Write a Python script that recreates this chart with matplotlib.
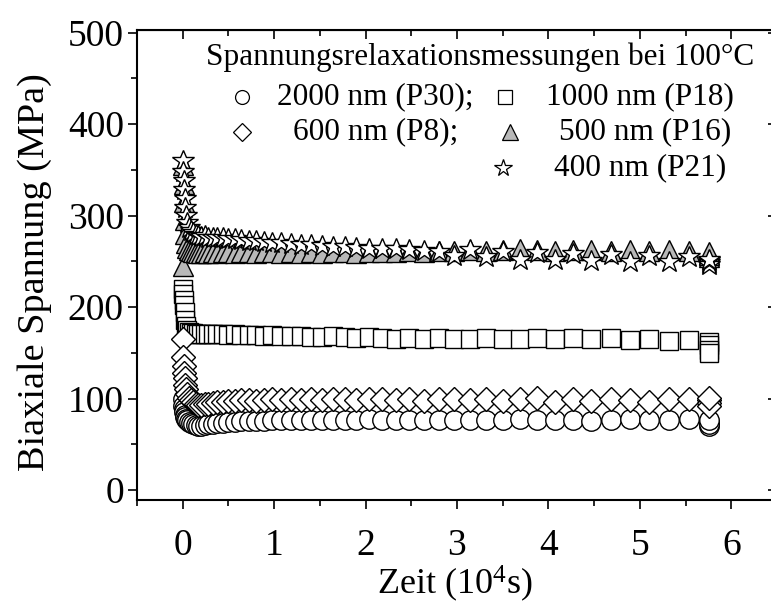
import matplotlib
matplotlib.use('Agg')
import matplotlib.pyplot as plt
from matplotlib.lines import Line2D
from matplotlib.ticker import MultipleLocator

plt.rcParams['font.family'] = ['Liberation Serif', 'DejaVu Serif']
plt.rcParams['mathtext.fontset'] = 'custom'
plt.rcParams['mathtext.rm'] = 'Liberation Serif'
plt.rcParams['mathtext.default'] = 'rm'

# ---- data (time in 10^4 s, stress in MPa) ----
t_base = [0.0, 0.005, 0.01, 0.015, 0.02, 0.03, 0.04, 0.05, 0.07, 0.09, 0.11, 0.14,
          0.17, 0.2, 0.24, 0.28, 0.33, 0.38, 0.44, 0.5, 0.57, 0.64, 0.72, 0.8, 0.89,
          0.98, 1.08, 1.18, 1.29, 1.4, 1.52, 1.64, 1.77, 1.9, 2.04, 2.18, 2.33, 2.48,
          2.64, 2.8, 2.97, 3.14, 3.32, 3.5, 3.69, 3.88, 4.07, 4.27, 4.47, 4.68, 4.89,
          5.1, 5.32, 5.54, 5.76]

s_2000 = [100, 92, 88, 85, 82, 80, 78, 76, 74, 73, 72, 71, 70, 70, 71, 72, 72, 73,
          73, 74, 74, 75, 75, 75, 75, 76, 76, 76, 77, 76, 77, 77, 76, 77, 78, 77, 76,
          77, 76, 76, 76, 77, 76, 77, 78, 77, 76, 77, 75, 77, 78, 76, 76, 78, 74]
s_1000 = [220, 214, 208, 202, 195, 186, 179, 175, 173, 172, 172, 171, 171, 171, 170,
          171, 170, 170, 170, 169, 170, 169, 169, 169, 168, 169, 168, 168, 168, 167,
          167, 168, 167, 166, 167, 166, 165, 166, 165, 166, 165, 165, 166, 165, 165,
          166, 165, 166, 165, 166, 164, 165, 163, 164, 162]
s_600 = [165, 145, 135, 128, 122, 115, 110, 105, 101, 98, 96, 94, 93, 93, 94, 94, 95,
         96, 96, 97, 97, 98, 98, 97, 98, 99, 98, 99, 98, 99, 98, 99, 100, 98, 99, 100,
         98, 99, 97, 99, 100, 98, 99, 97, 100, 101, 96, 99, 97, 100, 98, 96, 99, 100, 98]
s_500 = [245, 355, 335, 315, 295, 280, 270, 265, 262, 261, 260, 260, 259, 259, 260,
         259, 260, 259, 260, 260, 259, 260, 260, 259, 260, 260, 259, 260, 259, 260,
         259, 260, 260, 259, 260, 260, 260, 261, 260, 261, 261, 262, 261, 262, 263,
         262, 261, 262, 262, 261, 262, 261, 262, 261, 258]
s_400 = [360, 348, 338, 328, 318, 308, 300, 292, 287, 283, 281, 279, 278, 277, 278,
         276, 276, 275, 275, 274, 274, 273, 272, 272, 271, 270, 270, 269, 268, 268,
         267, 266, 266, 265, 264, 264, 263, 262, 261, 260, 256, 262, 255, 260, 252,
         259, 251, 258, 250, 257, 249, 256, 249, 255, 248]

t_end = [5.76, 5.76, 5.76]
e_2000 = [70, 72, 76]
e_1000 = [158, 153, 150]
e_600 = [95, 92, 101]
e_500 = [255, 257, 260]
e_400 = [246, 250, 252]

fig = plt.figure(figsize=(7.71, 6.09), dpi=100)
ax = fig.add_axes([137 / 771, 1 - 500 / 609, (777 - 137) / 771, (500 - 30) / 609])

mew = 1.0
series = [
    (s_2000, e_2000, dict(marker='o', ms=14, mfc='white')),
    (s_1000, e_1000, dict(marker='s', ms=12.5, mfc='white')),
    (s_600, e_600, dict(marker='D', ms=12, mfc='white')),
    (s_500, e_500, dict(marker='^', ms=15, mfc='#b8b8b8')),
    (s_400, e_400, dict(marker='*', ms=16.5, mfc='white')),
]
for vals, ends, st in series:
    ax.plot(t_base + t_end, vals + ends, ls='none', mec='black', mew=mew, **st)

ax.set_xlim(-0.5, 6.5)
ax.set_ylim(-11, 503)
ax.xaxis.set_major_locator(MultipleLocator(1))
ax.xaxis.set_minor_locator(MultipleLocator(0.5))
ax.yaxis.set_major_locator(MultipleLocator(100))
ax.yaxis.set_minor_locator(MultipleLocator(50))

for s in ax.spines.values():
    s.set_linewidth(1.5)

ax.tick_params(which='both', direction='out', top=False, right=False, width=1.2)
ax.tick_params(which='major', length=6.5, labelsize=27)
ax.tick_params(which='minor', length=4)
ax.tick_params(axis='x', which='major', pad=14)
ax.tick_params(axis='y', which='major', pad=3)

# mirrored inward ticks on top and right
axt = ax.secondary_xaxis('top')
axt.xaxis.set_major_locator(MultipleLocator(1))
axt.xaxis.set_minor_locator(MultipleLocator(0.5))
axt.tick_params(which='both', direction='in', labeltop=False, width=1.2)
axt.tick_params(which='major', length=6.5)
axt.tick_params(which='minor', length=4)
axr = ax.secondary_yaxis('right')
axr.yaxis.set_major_locator(MultipleLocator(100))
axr.yaxis.set_minor_locator(MultipleLocator(50))
axr.tick_params(which='both', direction='in', labelright=False, width=1.2)
axr.tick_params(which='major', length=6.5)
axr.tick_params(which='minor', length=4)

fig.text(35 / 771, 1 - 272 / 609, 'Biaxiale Spannung (MPa)', rotation=90,
         ha='center', va='center', fontsize=27.5)
fig.text(455 / 771, 1 - 584 / 609, r'Zeit (10$^{4}$s)', ha='center', va='center',
         fontsize=26)

# legend block
def fx(x):
    return x / 771

def fy(y):
    return 1 - y / 609

fig.text(fx(480), fy(57), 'Spannungsrelaxationsmessungen bei 100°C', ha='center',
         va='center', fontsize=22.5)
leg_rows = [
    (242, 97, 'o', 10, 'white', 277, '2000 nm (P30);'),
    (505, 97, 's', 9.5, 'white', 546, '1000 nm (P18)'),
    (242, 132, 'D', 9.5, 'white', 293, '600 nm (P8);'),
    (510, 132, '^', 11, '#b8b8b8', 559, '500 nm (P16)'),
    (503, 168, '*', 13, 'white', 554, '400 nm (P21)'),
]
for mx, my, mk, msz, fc, tx, label in leg_rows:
    fig.add_artist(Line2D([fx(mx)], [fy(my)], transform=fig.transFigure, ls='none',
                          marker=mk, ms=msz, mfc=fc, mec='black', mew=0.9))
    fig.text(fx(tx), fy(my), label, ha='left', va='center', fontsize=22.5)

fig.savefig('out.png', dpi=100)
